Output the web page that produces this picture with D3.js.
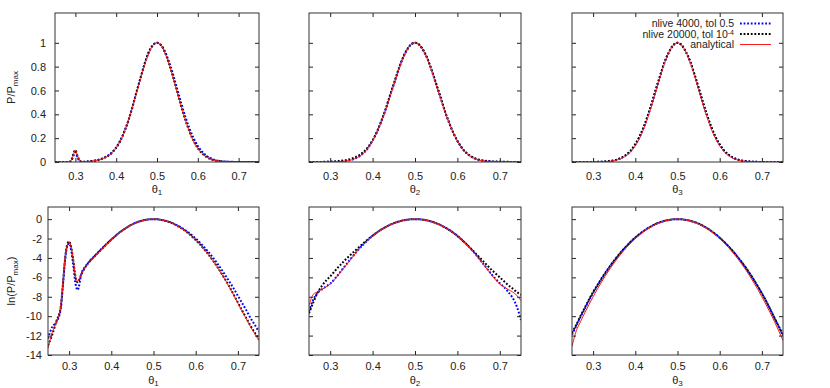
<!DOCTYPE html>
<html>
<head>
<meta charset="utf-8">
<script src="https://cdn.jsdelivr.net/npm/d3@7"></script>
<style>
body { margin: 0; background: #fff; }
text { font-family: "Liberation Sans", Arial, sans-serif; }
</style>
</head>
<body>
<svg width="830" height="388"></svg>
<script>
// theta grid (panel 1 gets extra points around the small mode at 0.3)
var thetaGrid = [0.25,0.26,0.27,0.28,0.29,0.30,0.31,0.32,0.33,0.34,0.35,0.36,0.37,0.38,0.39,0.40,0.41,0.42,0.43,0.44,0.45,0.46,0.47,0.48,0.49,0.50,
  0.51,0.52,0.53,0.54,0.55,0.56,0.57,0.58,0.59,0.60,0.61,0.62,0.63,0.64,0.65,0.66,0.67,0.68,0.69,0.70,0.71,0.72,0.73,0.74,0.75];
var thetaGrid1 = [0.25,0.26,0.27,0.28,0.285,0.29,0.295,0.30,0.305,0.31,0.315,0.32,0.33,0.34,0.35,0.36,0.37,0.38,0.39,0.40,0.41,0.42,0.43,0.44,0.45,0.46,0.47,0.48,0.49,0.50,
  0.51,0.52,0.53,0.54,0.55,0.56,0.57,0.58,0.59,0.60,0.61,0.62,0.63,0.64,0.65,0.66,0.67,0.68,0.69,0.70,0.71,0.72,0.73,0.74,0.75];

var xTicks = [0.3, 0.4, 0.5, 0.6, 0.7];
var xTickLabels = ['0.3', '0.4', '0.5', '0.6', '0.7'];
var pTicks = [0, 0.2, 0.4, 0.6, 0.8, 1];
var pTickLabels = ['0', '0.2', '0.4', '0.6', '0.8', '1'];
var lnTicks = [0, -2, -4, -6, -8, -10, -12, -14];
var lnTickLabels = ['0', '-2', '-4', '-6', '-8', '-10', '-12', '-14'];

// top row: P/Pmax
var p1Nlive4000 = [0,0,0,0.0001,0.001,0.012,0.05,0.08,0.04,0.008,0.0014,0.0007,
  0.0041,0.0082,0.014,0.022,0.035,0.054,0.082,0.122,0.179,0.257,0.35,0.463,0.589,0.71,0.827,0.923,0.98,1,
  0.98,0.923,0.835,0.726,0.607,0.487,0.375,0.278,0.198,0.135,0.089,0.056,0.034,0.02,0.011,0.006,0.003,0.0016,0.0008,0.0004,0.0002,0.0001,0,0,0];
var p1Nlive20000 = [0,0,0,0.0001,0.001,0.014,0.067,0.10,0.055,0.014,0.0027,0.0015,
  0.0037,0.0078,0.0136,0.021,0.033,0.051,0.08,0.12,0.177,0.254,0.35,0.463,0.589,0.71,0.827,0.923,0.98,1,
  0.98,0.914,0.819,0.705,0.583,0.458,0.346,0.252,0.174,0.116,0.074,0.045,0.026,0.015,0.008,0.004,0.002,0.001,0.0004,0.0002,0.0001,0,0,0,0];
var p1Analytical = [0,0,0,0.0001,0.001,0.015,0.06,0.10,0.055,0.015,0.003,0.0017,
  0.0037,0.0074,0.013,0.02,0.032,0.05,0.078,0.12,0.175,0.25,0.35,0.46,0.58,0.70,0.82,0.91,0.98,1,
  0.98,0.91,0.82,0.70,0.58,0.46,0.35,0.25,0.17,0.114,0.072,0.044,0.025,0.014,0.008,0.004,0.002,0.001,0.0004,0.0002,0,0,0,0,0];

var p2Nlive4000 = [0.0001,0.0002,0.0005,0.0007,0.001,0.0013,0.002,0.0035,0.006,0.0106,0.018,0.031,0.051,0.08,0.122,0.179,0.249,0.336,0.432,0.543,0.65,0.763,0.861,0.932,0.983,1,
  0.983,0.932,0.861,0.763,0.65,0.543,0.432,0.336,0.249,0.179,0.122,0.08,0.051,0.031,0.018,0.0106,0.006,0.0035,0.0021,0.0014,0.0009,0.0006,0.0003,0.0001,0];
var p2Nlive20000 = [0.0001,0.0002,0.0005,0.001,0.0017,0.0027,0.0045,0.0074,0.0117,0.018,0.027,0.041,0.061,0.089,0.129,0.183,0.252,0.34,0.436,0.549,0.657,0.763,0.861,0.937,0.984,1,
  0.984,0.937,0.861,0.763,0.657,0.549,0.432,0.333,0.247,0.176,0.12,0.08,0.052,0.033,0.021,0.0136,0.0087,0.0055,0.0037,0.0025,0.0017,0.0011,0.0008,0.0006,0.0004];
var p2Analytical = [0.0001,0.0004,0.0006,0.0007,0.0009,0.0012,0.0019,0.0033,0.0058,0.01,0.017,0.03,0.05,0.078,0.12,0.177,0.247,0.333,0.427,0.538,0.644,0.756,0.856,0.932,0.983,1,
  0.983,0.932,0.856,0.756,0.644,0.538,0.427,0.333,0.247,0.177,0.12,0.078,0.05,0.03,0.017,0.01,0.0058,0.0033,0.0019,0.0012,0.0009,0.0007,0.0006,0.0004,0.0002];

var p3Nlive4000 = [0,0,0,0.0001,0.0002,0.0005,0.001,0.0021,0.004,0.0076,0.0136,0.0235,0.04,0.063,0.098,0.147,0.21,0.292,0.39,0.5,0.62,0.733,0.844,0.923,0.98,1,
  0.98,0.923,0.844,0.733,0.62,0.5,0.39,0.292,0.21,0.147,0.098,0.063,0.04,0.0235,0.0136,0.0076,0.004,0.0021,0.001,0.0005,0.0002,0.0001,0,0,0];
var p3Nlive20000 = [0,0,0,0.0001,0.0002,0.0005,0.0011,0.0022,0.0043,0.008,0.014,0.025,0.041,0.065,0.1,0.15,0.214,0.295,0.395,0.507,0.625,0.74,0.844,0.923,0.98,1,
  0.98,0.923,0.844,0.74,0.625,0.507,0.395,0.295,0.212,0.147,0.097,0.063,0.039,0.023,0.013,0.0074,0.004,0.002,0.001,0.0005,0.0002,0.0001,0,0,0];
var p3Analytical = [0,0,0,0.0001,0.0001,0.0003,0.0007,0.0015,0.0031,0.006,0.011,0.02,0.034,0.056,0.089,0.135,0.198,0.278,0.375,0.487,0.607,0.726,0.835,0.923,0.98,1,
  0.98,0.923,0.835,0.726,0.607,0.487,0.375,0.278,0.198,0.135,0.089,0.056,0.034,0.02,0.011,0.006,0.0031,0.0015,0.0007,0.0003,0.0001,0.0001,0,0,0];

// bottom row: ln(P/Pmax)
var ln1Nlive4000 = [-12.3,-11.1,-10.6,-9.3,-7.0,-4.4,-2.9,-2.5,-3.2,-4.8,-6.6,-7.3,
  -5.5,-4.8,-4.25,-3.8,-3.35,-2.92,-2.5,-2.1,-1.72,-1.36,-1.05,-0.77,-0.53,-0.34,-0.19,-0.08,-0.02,0,
  -0.02,-0.08,-0.18,-0.32,-0.5,-0.72,-0.98,-1.28,-1.62,-2.0,-2.42,-2.88,-3.38,-3.92,-4.5,-5.12,-5.78,-6.45,-7.15,-7.9,-8.65,-9.4,-10.2,-10.9,-11.6];
var ln1Nlive20000 = [-13.0,-11.9,-10.5,-9.1,-6.9,-4.3,-2.7,-2.3,-2.9,-4.3,-5.9,-6.5,
  -5.6,-4.85,-4.3,-3.85,-3.4,-2.97,-2.53,-2.12,-1.73,-1.37,-1.05,-0.77,-0.53,-0.34,-0.19,-0.08,-0.02,0,
  -0.02,-0.09,-0.2,-0.35,-0.54,-0.78,-1.06,-1.38,-1.75,-2.15,-2.6,-3.1,-3.64,-4.22,-4.85,-5.52,-6.23,-6.98,-7.78,-8.6,-9.42,-10.2,-11.0,-11.7,-12.4];
var ln1Analytical = [-13.3,-11.7,-10.6,-9.0,-6.8,-4.2,-2.8,-2.3,-2.9,-4.2,-5.8,-6.4,
  -5.6,-4.9,-4.35,-3.9,-3.45,-3.0,-2.55,-2.13,-1.74,-1.38,-1.06,-0.78,-0.54,-0.35,-0.2,-0.09,-0.02,0,
  -0.02,-0.09,-0.2,-0.35,-0.54,-0.78,-1.06,-1.39,-1.76,-2.17,-2.63,-3.12,-3.67,-4.25,-4.88,-5.56,-6.27,-7.03,-7.83,-8.68,-9.5,-10.3,-11.1,-11.8,-12.5];

var ln2Nlive4000 = [-9.5,-8.3,-7.6,-7.25,-6.95,-6.65,-6.2,-5.65,-5.1,-4.55,-4.0,-3.47,-2.98,-2.53,-2.1,-1.72,-1.39,-1.09,-0.84,-0.61,-0.43,-0.27,-0.15,-0.07,-0.017,0,
  -0.017,-0.07,-0.15,-0.27,-0.43,-0.61,-0.84,-1.09,-1.39,-1.72,-2.1,-2.53,-2.98,-3.47,-4.0,-4.55,-5.1,-5.65,-6.15,-6.6,-7.0,-7.5,-8.1,-9.0,-10.4];
var ln2Nlive20000 = [-9.7,-8.6,-7.6,-6.9,-6.35,-5.9,-5.4,-4.9,-4.45,-4.0,-3.6,-3.2,-2.8,-2.42,-2.05,-1.7,-1.38,-1.08,-0.83,-0.6,-0.42,-0.27,-0.15,-0.065,-0.016,0,
  -0.016,-0.065,-0.15,-0.27,-0.42,-0.6,-0.84,-1.1,-1.4,-1.74,-2.12,-2.52,-2.95,-3.4,-3.85,-4.3,-4.75,-5.2,-5.6,-6.0,-6.4,-6.8,-7.15,-7.5,-7.8];
var ln2Analytical = [-8.9,-7.75,-7.5,-7.25,-7.0,-6.7,-6.25,-5.7,-5.15,-4.6,-4.05,-3.5,-3.0,-2.55,-2.12,-1.73,-1.4,-1.1,-0.85,-0.62,-0.44,-0.28,-0.155,-0.07,-0.017,0,
  -0.017,-0.07,-0.155,-0.28,-0.44,-0.62,-0.85,-1.1,-1.4,-1.73,-2.12,-2.55,-3.0,-3.5,-4.05,-4.6,-5.15,-5.7,-6.25,-6.7,-7.0,-7.25,-7.5,-7.85,-8.4];

var ln3Nlive4000 = [-11.9,-11.0,-10.1,-9.25,-8.4,-7.6,-6.88,-6.18,-5.52,-4.88,-4.3,-3.75,-3.23,-2.76,-2.32,-1.92,-1.56,-1.23,-0.94,-0.69,-0.48,-0.31,-0.17,-0.08,-0.02,0,
  -0.02,-0.08,-0.17,-0.31,-0.48,-0.69,-0.94,-1.23,-1.56,-1.92,-2.32,-2.76,-3.23,-3.75,-4.3,-4.88,-5.52,-6.18,-6.9,-7.65,-8.45,-9.3,-10.2,-11.1,-12.0];
var ln3Nlive20000 = [-11.7,-10.9,-10.0,-9.15,-8.3,-7.52,-6.8,-6.1,-5.45,-4.83,-4.25,-3.7,-3.2,-2.73,-2.3,-1.9,-1.54,-1.22,-0.93,-0.68,-0.47,-0.3,-0.17,-0.08,-0.02,0,
  -0.02,-0.08,-0.17,-0.3,-0.47,-0.68,-0.93,-1.22,-1.55,-1.92,-2.33,-2.77,-3.25,-3.77,-4.32,-4.9,-5.53,-6.2,-6.9,-7.65,-8.45,-9.3,-10.2,-11.05,-11.9];
var ln3Analytical = [-13.1,-11.52,-10.58,-9.68,-8.82,-8.0,-7.22,-6.48,-5.78,-5.12,-4.5,-3.92,-3.38,-2.88,-2.42,-2.0,-1.62,-1.28,-0.98,-0.72,-0.5,-0.32,-0.18,-0.08,-0.02,0,
  -0.02,-0.08,-0.18,-0.32,-0.5,-0.72,-0.98,-1.28,-1.62,-2.0,-2.42,-2.88,-3.38,-3.92,-4.5,-5.12,-5.78,-6.48,-7.22,-8.0,-8.82,-9.68,-10.58,-11.52,-12.5];

var svg = d3.select('svg');

var cols = [{l: 55, r: 259}, {l: 309, r: 521}, {l: 572, r: 783}];
var rows = [{t: 13, b: 162, domain: [0, 1.25], ticks: pTicks, labels: pTickLabels, pad: 10, lab: 30.5, ypad: 9},
            {t: 207, b: 355, domain: [-14, 1.25], ticks: lnTicks, labels: lnTickLabels, pad: 7, lab: 28.5, ypad: 6}];

var panels = [
  {row: 0, col: 0, xs: thetaGrid1, s: [p1Nlive4000, p1Nlive20000, p1Analytical]},
  {row: 0, col: 1, xs: thetaGrid, s: [p2Nlive4000, p2Nlive20000, p2Analytical]},
  {row: 0, col: 2, xs: thetaGrid, s: [p3Nlive4000, p3Nlive20000, p3Analytical]},
  {row: 1, col: 0, xs: thetaGrid1, s: [ln1Nlive4000, ln1Nlive20000, ln1Analytical], left: 48},
  {row: 1, col: 1, xs: thetaGrid, s: [ln2Nlive4000, ln2Nlive20000, ln2Analytical]},
  {row: 1, col: 2, xs: thetaGrid, s: [ln3Nlive4000, ln3Nlive20000, ln3Analytical]}
];

var styles = [
  {stroke: '#0000ff', width: 2, dash: '1.8,1.8'},
  {stroke: '#000000', width: 2, dash: '1.8,1.8'},
  {stroke: '#ff1a1a', width: 1, dash: null}
];

panels.forEach(function(p, i) {
  var row = rows[p.row];
  var l = p.left || cols[p.col].l, r = cols[p.col].r;
  var x = d3.scaleLinear().domain([0.25, 0.75]).range([l, r]);
  var y = d3.scaleLinear().domain(row.domain).range([row.b, row.t]);
  var g = svg.append('g');

  g.append('clipPath').attr('id', 'clip' + i)
    .append('rect').attr('x', l).attr('y', row.t).attr('width', r - l).attr('height', row.b - row.t);

  var line = d3.line()
    .x(function(d) { return x(d[0]); })
    .y(function(d) { return y(d[1]); })
    .curve(d3.curveMonotoneX);

  p.s.forEach(function(vals, k) {
    var pts = p.xs.map(function(t, j) { return [t, vals[j]]; });
    g.append('path')
      .attr('clip-path', 'url(#clip' + i + ')')
      .attr('d', line(pts))
      .attr('fill', 'none')
      .attr('stroke', styles[k].stroke)
      .attr('stroke-width', styles[k].width)
      .attr('stroke-dasharray', styles[k].dash);
  });

  // ticks on all four sides, pointing inward (gnuplot style)
  var ax = [];
  ax.push(g.append('g').attr('transform', 'translate(0,' + row.b + ')')
    .call(d3.axisBottom(x).tickValues(xTicks).tickSize(-4).tickPadding(row.pad)
      .tickFormat(function(d, j) { return xTickLabels[j]; })));
  ax.push(g.append('g').attr('transform', 'translate(0,' + row.t + ')')
    .call(d3.axisTop(x).tickValues(xTicks).tickSize(-4).tickFormat('')));
  ax.push(g.append('g').attr('transform', 'translate(' + l + ',0)')
    .call(d3.axisLeft(y).tickValues(row.ticks).tickSize(-4).tickPadding(row.ypad)
      .tickFormat(function(d, j) { return p.col === 0 ? row.labels[j] : ''; })));
  ax.push(g.append('g').attr('transform', 'translate(' + r + ',0)')
    .call(d3.axisRight(y).tickValues(row.ticks).tickSize(-4).tickFormat('')));
  ax.forEach(function(a) {
    a.select('.domain').remove();
    a.attr('font-family', null).attr('font-size', 11).attr('color', '#222');
  });

  g.append('rect')
    .attr('x', l).attr('y', row.t).attr('width', r - l).attr('height', row.b - row.t)
    .attr('fill', 'none').attr('stroke', '#333').attr('stroke-width', 1);

  // x label: theta with subscript
  var xl = g.append('text')
    .attr('x', (l + r) / 2).attr('y', row.b + row.lab)
    .attr('text-anchor', 'middle').attr('font-size', 11).attr('fill', '#222');
  xl.append('tspan').text('\u03b8');
  xl.append('tspan').attr('dy', 2.5).attr('font-size', 8).text(p.col + 1);

  if (p.col === 0) {
    var yl = g.append('text')
      .attr('transform', 'translate(15,' + ((row.t + row.b) / 2) + ') rotate(-90)')
      .attr('text-anchor', 'middle').attr('font-size', 11).attr('fill', '#222');
    yl.append('tspan').text(p.row === 0 ? 'P/P' : 'ln(P/P');
    yl.append('tspan').attr('dy', 3).attr('font-size', 8).text('max');
    if (p.row === 1) yl.append('tspan').attr('dy', -3).text(')');
  }
});

// legend in the top-right panel
var legendNames = ['nlive 4000, tol 0.5', 'nlive 20000, tol 10', 'analytical'];
var legend = svg.append('g');
legendNames.forEach(function(name, k) {
  var yy = 23.5 + k * 10.5;
  var t = legend.append('text').attr('x', 734).attr('y', yy + 3.8)
    .attr('text-anchor', 'end').attr('font-size', 10.5).attr('fill', '#222');
  t.append('tspan').text(name);
  if (k === 1) t.append('tspan').attr('dy', -3).attr('font-size', 7).text('-4');
  legend.append('line')
    .attr('x1', 740).attr('x2', 771).attr('y1', yy).attr('y2', yy)
    .attr('stroke', styles[k].stroke).attr('stroke-width', styles[k].width)
    .attr('stroke-dasharray', styles[k].dash);
});
</script>
</body>
</html>
